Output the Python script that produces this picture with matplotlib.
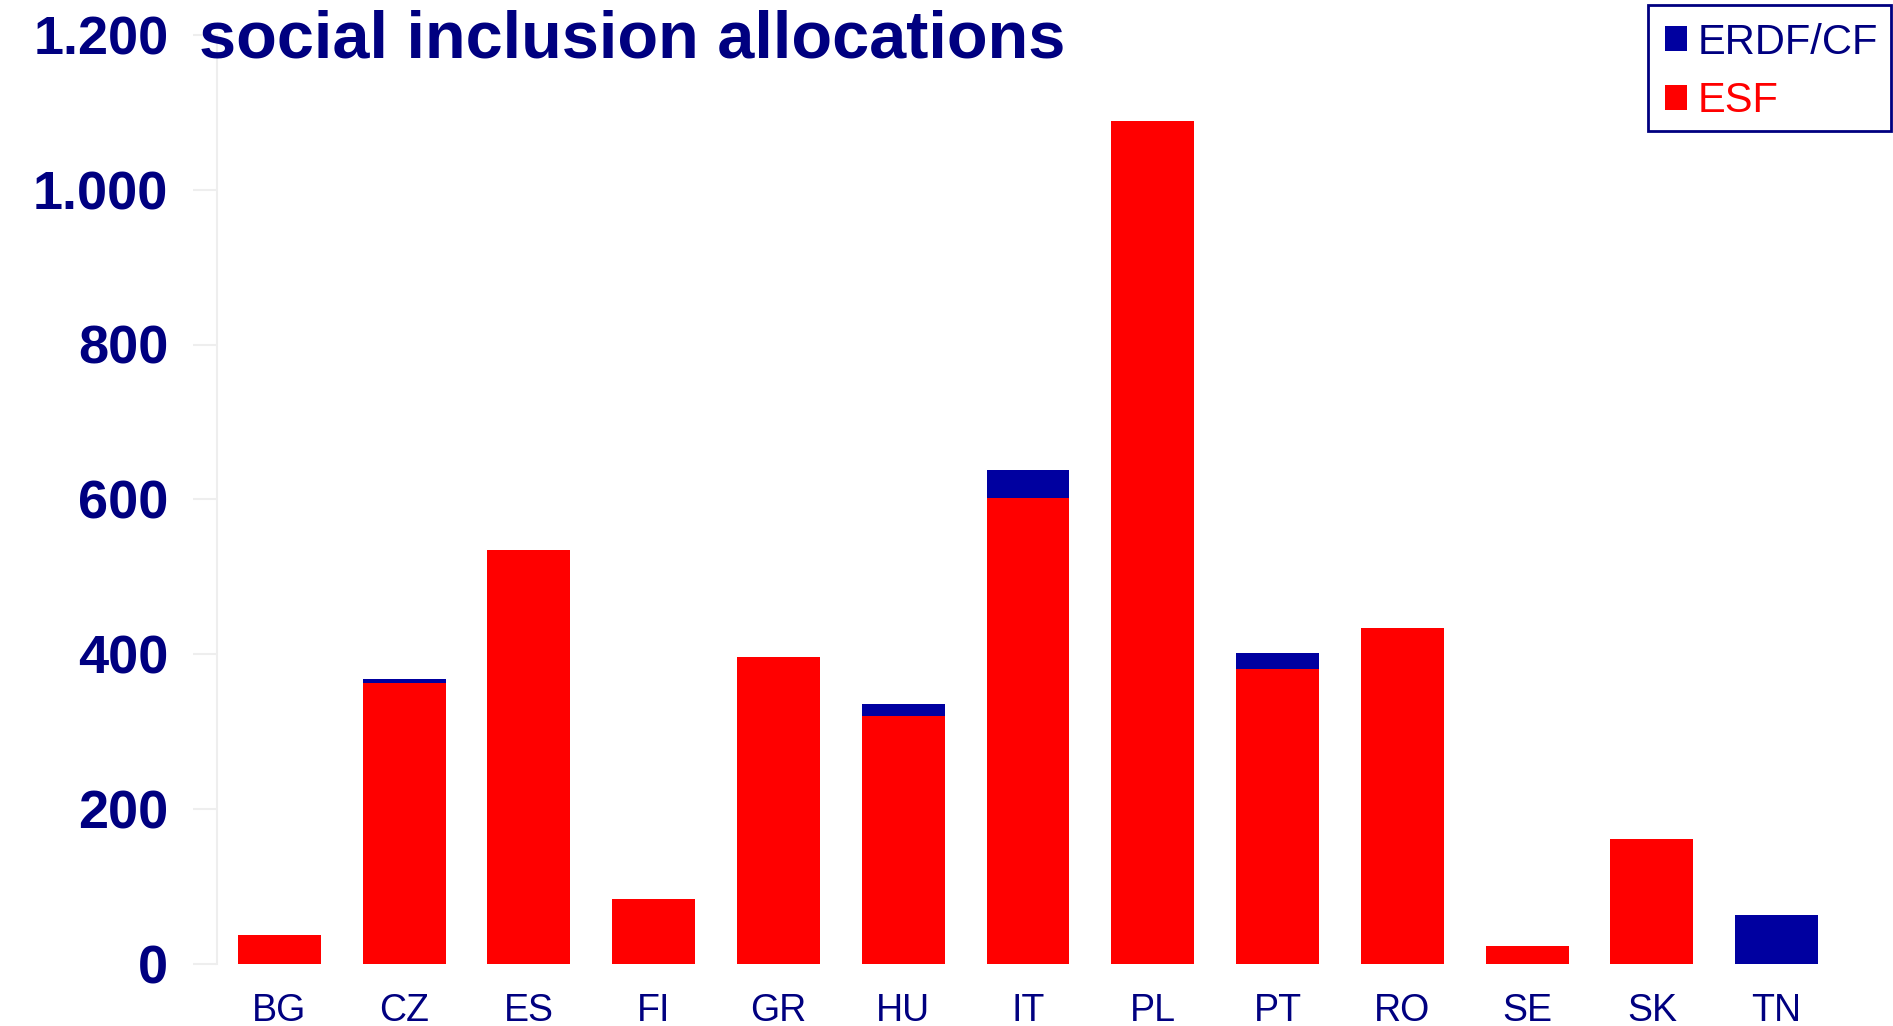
import matplotlib
matplotlib.use("Agg")
import matplotlib.pyplot as plt
from matplotlib.patches import Rectangle
import numpy as np

# values
countries = ["BG", "CZ", "ES", "FI", "GR", "HU", "IT", "PL", "PT", "RO", "SE", "SK", "TN"]
esf = [37, 363, 535, 84, 396, 320, 601, 1089, 381, 433, 22, 161, 0]
erdf_cf = [0, 5, 0, 0, 0, 15, 37, 0, 20, 0, 0, 0, 63]

yticks = [0, 200, 400, 600, 800, 1000, 1200]
ytick_labels = ["0", "200", "400", "600", "800", "1.000", "1.200"]

NAVY_TEXT = "#000080"
NAVY_BAR = "#0000a0"
RED = "#ff0000"
FONT = ["Liberation Sans", "DejaVu Sans"]

plt.rcParams['font.family'] = FONT

W, H = 1893, 1026
fig = plt.figure(figsize=(W / 100, H / 100), dpi=100)
ax = fig.add_axes([217 / W, 1 - 963.5 / H, (1839 - 217) / W, (963.5 - 35) / H])

x = np.arange(len(countries))
ax.bar(x, esf, width=0.665, color=RED, label="ESF", zorder=2)
ax.bar(x, erdf_cf, width=0.665, bottom=esf, color=NAVY_BAR, label="ERDF/CF", zorder=2)

ax.set_xlim(-0.5, len(countries) - 0.5)
ax.set_ylim(0, 1200)

ax.set_yticks(yticks)
ax.set_yticklabels(ytick_labels, fontsize=39, fontweight="bold", color=NAVY_TEXT)
ax.tick_params(axis="y", length=17, width=1.5, color="#eeeeee", pad=18)

ax.set_xticks(x)
ax.set_xticklabels(countries, fontsize=27, color=NAVY_TEXT)
ax.tick_params(axis="x", length=0, pad=21)

for side in ["top", "right", "bottom"]:
    ax.spines[side].set_visible(False)
ax.spines["left"].set_color("#eeeeee")
ax.spines["left"].set_linewidth(1.5)

fig.text(199 / W, 1 - 58 / H, "social inclusion allocations",
         fontsize=48, fontweight="bold", color=NAVY_TEXT, ha="left", va="baseline")

# legend: ERDF/CF on top, ESF below; frame drawn separately
handles, labels = ax.get_legend_handles_labels()
leg = fig.legend(handles[::-1], labels[::-1], loc="upper left",
                 bbox_to_anchor=(1652 / W, 1 - 10 / H),
                 fontsize=30, frameon=False,
                 handlelength=0.55, handleheight=0.55, handletextpad=0.25,
                 labelspacing=0.45, borderpad=0.3, borderaxespad=0)
for txt, col in zip(leg.get_texts(), [NAVY_TEXT, RED]):
    txt.set_color(col)
fig.patches.append(Rectangle((1648 / W, 1 - 131 / H), 243 / W, 126 / H,
                             transform=fig.transFigure, fill=False,
                             edgecolor=NAVY_TEXT, linewidth=2))

fig.savefig("out.png", dpi=100)
